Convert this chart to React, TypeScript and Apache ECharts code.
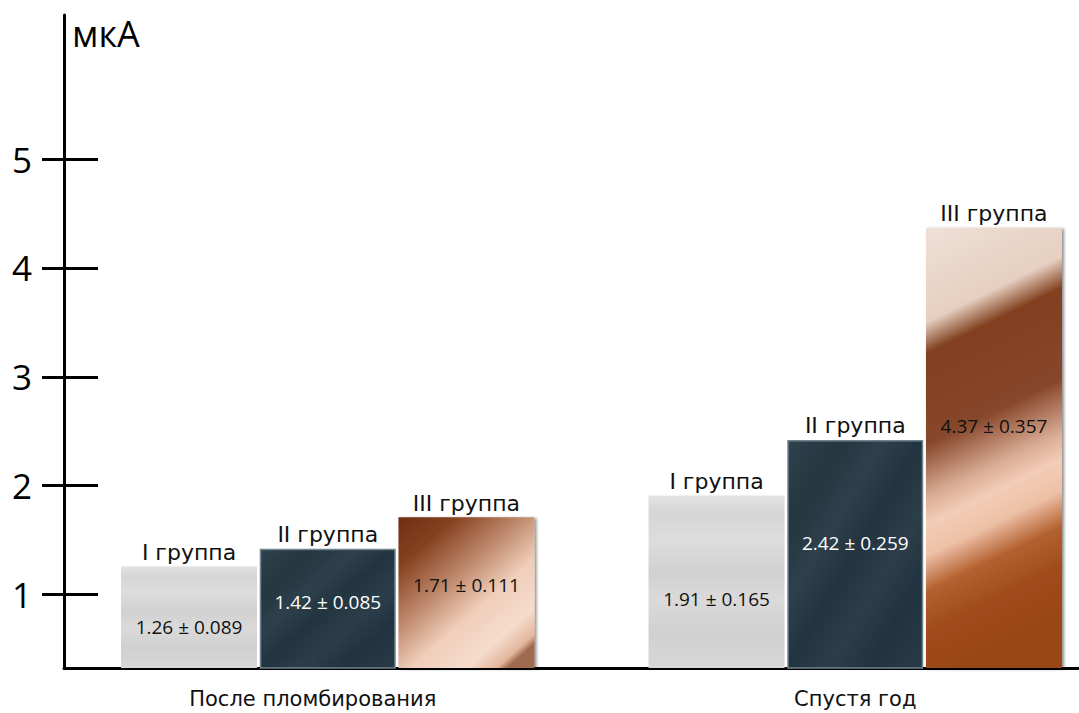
import React, { useEffect, useRef } from "react";
import * as echarts from "echarts";

const categories = ["После пломбирования", "Спустя год"];
const groupNames = ["I группа", "II группа", "III группа"];
const groupI = [1.26, 1.91];
const groupII = [1.42, 2.42];
const groupIII = [1.71, 4.37];
const errI = ["0.089", "0.165"];
const errII = ["0.085", "0.259"];
const errIII = ["0.111", "0.357"];
const yTicks = [1, 2, 3, 4, 5];
const unitLabel = "мкА";

const Y_MIN = 0.324;
const Y_MAX = 6.325;

type Stop = [number, string];
const lg = (x2: number, y2: number, stops: Stop[]) =>
  new echarts.graphic.LinearGradient(
    0,
    0,
    x2,
    y2,
    stops.map(([offset, color]) => ({ offset, color }))
  );

const steelFill = () =>
  lg(0, 1, [
    [0, "#e4e4e4"],
    [0.1, "#d5d5d5"],
    [0.25, "#dddddd"],
    [0.45, "#d1d1d1"],
    [0.6, "#dadada"],
    [0.8, "#d0d0d0"],
    [1, "#d7d7d7"],
  ]);

const slateFill = () =>
  lg(1, 1, [
    [0, "#2f424e"],
    [0.2, "#24363f"],
    [0.35, "#2d404c"],
    [0.5, "#223440"],
    [0.65, "#2c3e4a"],
    [0.8, "#213340"],
    [1, "#293b47"],
  ]);

const copperFills = [
  () =>
    lg(0.8, 1, [
      [0, "#6e2f16"],
      [0.2, "#84411f"],
      [0.45, "#c08a6e"],
      [0.65, "#efcdb9"],
      [0.85, "#f6dccd"],
      [0.96, "#e3b79d"],
      [1, "#a06a50"],
    ]),
  () =>
    lg(0.15, 1, [
      [0, "#efe0d6"],
      [0.21, "#e6cfc0"],
      [0.28, "#82401f"],
      [0.48, "#86462a"],
      [0.6, "#d9ab94"],
      [0.66, "#f3cdb8"],
      [0.73, "#eec0a6"],
      [0.81, "#b3612f"],
      [0.9, "#a04c1b"],
      [1, "#9a4616"],
    ]),
];

export default function App() {
  const ref = useRef<HTMLDivElement>(null);

  useEffect(() => {
    if (!ref.current) return;
    const chart = echarts.init(ref.current, undefined, { renderer: "svg" });

    const valueFont = "'Open Sans', 'DejaVu Sans', sans-serif";
    const groupFont = "'DejaVu Sans', Verdana, sans-serif";

    const makeSeries = (
      k: number,
      values: number[],
      errs: string[],
      fill: (i: number) => any,
      textColor: string,
      frac: number,
      extraStyle: any
    ) => ({
      type: "bar",
      name: groupNames[k],
      barWidth: 136,
      barGap: "2%",
      silent: true,
      data: values.map((v, i) => ({
        value: v,
        itemStyle: { color: fill(i), ...extraStyle },
      })),
      label: {
        show: true,
        position: "top",
        distance: 3,
        formatter: groupNames[k],
        fontFamily: groupFont,
        fontSize: 22,
        color: "#111",
      },
      markPoint: {
        silent: true,
        symbol: "circle",
        symbolSize: 1,
        itemStyle: { color: "rgba(0,0,0,0)" },
        label: {
          show: true,
          position: "inside",
          formatter: (p: any) => p.name,
          fontFamily: valueFont,
          fontSize: 19,
          color: textColor,
        },
        data: values.map((v, i) => ({
          name: `${v.toFixed(2)} ± ${errs[i]}`,
          coord: [i, Y_MIN + frac * (v - Y_MIN)],
        })),
      },
    });

    chart.setOption({
      animation: false,
      backgroundColor: "#ffffff",
      grid: {
        left: 64,
        right: -40,
        top: 15,
        bottom: 45,
        containLabel: false,
        outerBoundsMode: "none",
      },
      xAxis: {
        type: "category",
        data: categories.map((c, i) => ({
          value: c,
          textStyle: { padding: i === 0 ? [0, 30, 0, 0] : [0, 0, 0, 0] },
        })),
        axisLine: { show: true, lineStyle: { color: "#000", width: 3 } },
        axisTick: { show: false },
        axisLabel: {
          margin: 20,
          fontSize: 21,
          fontFamily: groupFont,
          color: "#111",
        },
      },
      yAxis: [
        {
          type: "value",
          min: Y_MIN,
          max: Y_MAX,
          position: "left",
          name: unitLabel,
          nameLocation: "end",
          nameGap: 0,
          nameTextStyle: {
            align: "left",
            verticalAlign: "top",
            padding: [0, 0, 0, 8],
            fontSize: 36,
            fontFamily: valueFont,
            color: "#000",
          },
          axisLine: { show: true, lineStyle: { color: "#000", width: 3 } },
          axisTick: {
            show: true,
            inside: true,
            length: 34,
            lineStyle: { color: "#000", width: 3 },
            customValues: yTicks,
          },
          axisLabel: {
            show: true,
            margin: 32,
            fontSize: 35,
            fontFamily: valueFont,
            color: "#000",
            customValues: yTicks,
          },
          splitLine: { show: false },
        },
        {
          type: "value",
          min: Y_MIN,
          max: Y_MAX,
          position: "left",
          offset: 0,
          axisLine: { show: false },
          axisTick: {
            show: true,
            inside: false,
            length: 22,
            lineStyle: { color: "#000", width: 3 },
            customValues: yTicks,
          },
          axisLabel: { show: false },
          splitLine: { show: false },
        },
      ],
      series: [
        makeSeries(0, groupI, errI, () => steelFill(), "#111", 0.4, {}),
        makeSeries(1, groupII, errII, () => slateFill(), "#ffffff", 0.55, {
          borderColor: "#72858f",
          borderWidth: 1.5,
        }),
        makeSeries(2, groupIII, errIII, (i) => copperFills[i](), "#111", 0.55, {
          shadowColor: "rgba(0,0,0,0.45)",
          shadowBlur: 3,
          shadowOffsetX: 2,
          shadowOffsetY: 1,
        }),
      ],
    });

    return () => chart.dispose();
  }, []);

  return (
    <div
      ref={ref}
      style={{
        position: "fixed",
        left: 0,
        top: 0,
        width: 1079,
        height: 713,
        overflow: "hidden",
        background: "#fff",
      }}
    />
  );
}
